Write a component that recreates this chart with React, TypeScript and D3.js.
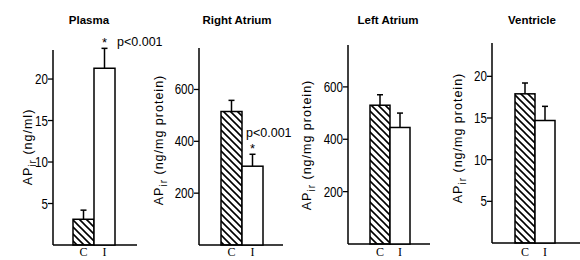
import React from 'react';
import * as d3 from 'd3';

// data
const panels = ['Plasma', 'Right Atrium', 'Left Atrium', 'Ventricle'];
const groups = ['C', 'I'];
const controlMean = [3.1, 515, 530, 17.9];
const controlSem = [1.1, 43, 40, 1.3];
const ischemicMean = [21.3, 304, 445, 14.7];
const ischemicSem = [2.4, 46, 55, 1.7];
const yMax = [23.5, 760, 760, 24];
const yTicks = [[5, 10, 15, 20], [200, 400, 600], [200, 400, 600], [5, 10, 15, 20]];
const yUnits = ['(ng/ml)', '(ng/mg protein)', '(ng/mg protein)', '(ng/mg protein)'];
const pLabels = ['p<0.001', 'p<0.001', '', ''];

// layout per panel (pixels)
const layout = [
  { axisX: 53, y0: 245, yTop: 50, barX: 73, barW: 21, endX: 137, titleX: 89, labelX: 32, labelY: 147 },
  { axisX: 199, y0: 245, yTop: 48, barX: 221, barW: 21, endX: 283, titleX: 237, labelX: 163, labelY: 140 },
  { axisX: 348, y0: 244, yTop: 45, barX: 370, barW: 20, endX: 430, titleX: 388, labelX: 311, labelY: 145 },
  { axisX: 492, y0: 243, yTop: 43, barX: 515, barW: 20, endX: 580, titleX: 532, labelX: 462, labelY: 138 },
];

const sans = '"Liberation Sans", Arial, sans-serif';

const Panel: React.FC<{ i: number }> = ({ i }) => {
  const L = layout[i];
  const y = d3.scaleLinear().domain([0, yMax[i]]).range([L.y0, L.yTop]);
  const x = d3.scaleBand<string>().domain(groups).range([L.barX, L.barX + 2 * L.barW]).padding(0);
  const means = [controlMean[i], ischemicMean[i]];
  const sems = [controlSem[i], ischemicSem[i]];

  return (
    <g>
      <text x={L.titleX} y={24} textAnchor="middle" fontFamily={sans} fontWeight="bold" fontSize={11.5}>
        {panels[i]}
      </text>
      {/* axes */}
      <line x1={L.axisX} x2={L.axisX} y1={L.yTop} y2={L.y0} stroke="#000" strokeWidth={1.5} />
      <line x1={L.axisX} x2={L.endX} y1={L.y0} y2={L.y0} stroke="#000" strokeWidth={1.5} />
      {yTicks[i].map(t => (
        <g key={t}>
          <line x1={L.axisX - 5} x2={L.axisX} y1={y(t)} y2={y(t)} stroke="#000" strokeWidth={1.3} />
          <text
            transform={`translate(${L.axisX - 5},${y(t) + 5}) scale(0.8,1)`}
            textAnchor="end"
            fontFamily={sans}
            fontSize={14.5}
          >
            {t}
          </text>
        </g>
      ))}
      <text
        transform={`translate(${L.labelX},${L.labelY}) rotate(-90)`}
        textAnchor="middle"
        fontFamily={sans}
        fontSize={12.5}
        letterSpacing={1}
      >
        AP<tspan fontSize={10} dy={4}>ir</tspan>
        <tspan dy={-4}> {yUnits[i]}</tspan>
      </text>
      {/* bars */}
      {groups.map((g, k) => {
        const bx = x(g) as number;
        const cx = bx + x.bandwidth() / 2;
        const top = y(means[k]);
        const cap = y(means[k] + sems[k]);
        return (
          <g key={g}>
            <line x1={cx} x2={cx} y1={top} y2={cap} stroke="#000" strokeWidth={1.5} />
            <line x1={cx - 3} x2={cx + 3} y1={cap} y2={cap} stroke="#000" strokeWidth={1.5} />
            <rect
              x={bx}
              y={top}
              width={x.bandwidth()}
              height={L.y0 - top}
              fill={k === 0 ? 'url(#hatch)' : '#fff'}
              stroke="#000"
              strokeWidth={1.5}
            />
            <text x={cx} y={256} textAnchor="middle" fontFamily='"Liberation Serif", serif' fontSize={12}>
              {g}
            </text>
          </g>
        );
      })}
      {pLabels[i] && (
        <>
          <text
            x={(x('I') as number) + x.bandwidth() / 2}
            y={y(ischemicMean[i] + ischemicSem[i]) - 1}
            textAnchor="middle"
            fontFamily={sans}
            fontSize={13}
          >
            *
          </text>
          <text x={i === 0 ? 117 : 246} y={i === 0 ? 46 : 137} fontFamily={sans} fontSize={12.5}>
            {pLabels[i]}
          </text>
        </>
      )}
    </g>
  );
};

export default function App() {
  return (
    <svg width={580} height={260} style={{ position: 'absolute', left: 0, top: 0, background: '#fff' }}>
      <defs>
        <pattern id="hatch" patternUnits="userSpaceOnUse" width={7} height={7}>
          <path d="M0,0 L7,7 M-2,5 L2,9 M5,-2 L9,2" stroke="#000" strokeWidth={1.6} />
        </pattern>
      </defs>
      <rect width={580} height={260} fill="#fff" />
      {panels.map((_, i) => (
        <Panel key={i} i={i} />
      ))}
    </svg>
  );
}
